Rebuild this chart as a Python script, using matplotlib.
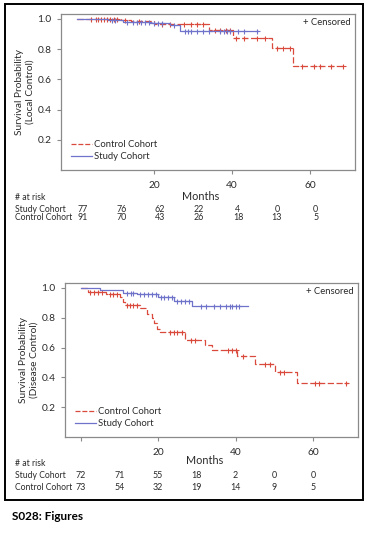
import numpy as np
import matplotlib
matplotlib.use("Agg")
import matplotlib.pyplot as plt
from matplotlib.patches import Rectangle
from matplotlib.lines import Line2D
import matplotlib.transforms as mtransforms

plt.rcParams["font.family"] = ["Lato", "DejaVu Sans"]

RED = "#d94a3c"
BLUE = "#6f73c9"
GRAY = "#8a8a8a"
TXT = "#2a2a2a"

# ---- Local control (top panel) ----
lc_ctrl_t = [0, 11.5, 14, 20, 34, 40.3, 50.2, 55.7, 69]
lc_ctrl_s = [1.0, 0.99, 0.985, 0.965, 0.927, 0.872, 0.805, 0.689, 0.689]
lc_ctrl_cens = [3.6, 4.9, 5.6, 6.3, 7.0, 7.8, 8.5, 9.5, 10.5, 12.5, 16, 22, 24,
                27.5, 29.5, 31, 32.6, 35.5, 37, 38.5, 39.5, 41, 43, 46.4, 48.5,
                51.5, 53, 54.8, 58, 61, 62.5, 65.5, 68.5]
lc_study_t = [0, 8, 12, 19, 24, 26.7, 46.7]
lc_study_s = [1.0, 0.99, 0.98, 0.975, 0.958, 0.922, 0.922]
lc_study_cens = [9, 10, 13, 14.5, 15.5, 16.5, 17.5, 18.5, 20, 21, 22, 25, 28,
                 28.7, 29.5, 31, 32.5, 34, 37, 38, 38.8, 39.5, 41.5, 43, 46.5]
lc_risk_study = [77, 76, 62, 22, 4, 0, 0]
lc_risk_ctrl = [91, 70, 43, 26, 18, 13, 5]

# ---- Disease control (bottom panel) ----
dc_ctrl_t = [0, 2.0, 6.6, 10.2, 11.0, 11.5, 15.4, 17.1, 18.4, 19.0, 19.7, 20.5,
             27, 32.2, 33.9, 40.4, 45.1, 50.3, 55.9, 69.1]
dc_ctrl_s = [1.0, 0.975, 0.956, 0.94, 0.907, 0.885, 0.868, 0.823, 0.797, 0.764,
             0.726, 0.706, 0.653, 0.62, 0.585, 0.541, 0.492, 0.439, 0.362, 0.362]
dc_ctrl_cens = [2.5, 3.5, 4.5, 5.5, 7.5, 8.5, 9.3, 12, 12.8, 13.5, 14.5, 23, 24,
                25, 26.3, 28.5, 29.5, 38, 39, 40, 42, 47.5, 49, 51.5, 52.5,
                60.5, 61.5, 68.5]
dc_study_t = [0, 5, 11, 14.6, 20.1, 24.2, 28.7, 43.1]
dc_study_s = [1.0, 0.985, 0.969, 0.956, 0.94, 0.912, 0.876, 0.876]
dc_study_cens = [12, 13, 13.6, 15.4, 16.5, 17.5, 18.5, 19.5, 20.8, 21.5, 22.5,
                 23.5, 25, 26, 27, 28, 31, 32.5, 34.5, 36, 37.5, 38.5, 39, 40, 41]
dc_risk_study = [72, 71, 55, 18, 2, 0, 0]
dc_risk_ctrl = [73, 54, 32, 19, 14, 9, 5]

risk_times = [0, 10, 20, 30, 40, 50, 60]

W, H = 369, 534
fig = plt.figure(figsize=(W / 100, H / 100), dpi=100)


def px(x, y):
    # figure pixel (from top-left) -> figure fraction
    return x / W, 1 - y / H


def step_value(t, s, x):
    i = np.searchsorted(t, x, side="right") - 1
    return s[max(i, 0)]


def km_panel(rect, ylabel, ctrl, study, xticks, risk, ypix, risk_dx):
    l, t, r, b = rect
    ax = fig.add_axes([l / W, 1 - b / H, (r - l) / W, (b - t) / H])
    for (tt, ss, cc), col, ls in [(ctrl, RED, (0, (5, 2))), (study, BLUE, "-")]:
        ax.step(tt, ss, where="post", color=col, lw=0.9, ls=ls)
        cy = [step_value(tt, ss, c) for c in cc]
        ax.plot(cc, cy, ls="none", marker="+", ms=3.6, mew=0.8, color=col)
    ax.set_xlim(-4, 71.6)
    ax.set_ylim(0, 1.033)
    ax.set_yticks([0.2, 0.4, 0.6, 0.8, 1.0])
    ax.set_yticklabels(["0.2", "0.4", "0.6", "0.8", "1.0"])
    ax.set_xticks(xticks)
    ax.set_xticklabels([str(x) if x else "" for x in xticks])
    for sp in ax.spines.values():
        sp.set_color(GRAY)
        sp.set_linewidth(0.9)
    ax.tick_params(axis="both", length=3, width=0.8, color=GRAY, labelsize=7.3,
                   labelcolor=TXT)
    ax.tick_params(axis="x", pad=5)
    ax.tick_params(axis="y", pad=4)
    ax.set_ylabel(ylabel, fontsize=7.3, color=TXT, linespacing=1.15, labelpad=2)
    ax.text(0.985, 0.945, "+ Censored", transform=ax.transAxes, ha="right",
            va="center", fontsize=6.8, color=TXT)
    handles = [Line2D([], [], color=RED, lw=0.9, ls=(0, (4, 1.5))),
               Line2D([], [], color=BLUE, lw=0.9)]
    ax.legend(handles, ["Control Cohort", "Study Cohort"], loc="lower left",
              bbox_to_anchor=(0.015, 0.02), frameon=False, fontsize=6.8,
              handlelength=2.2, handletextpad=0.2, labelspacing=0.3,
              borderaxespad=0.2, labelcolor=TXT)

    # number at risk table
    trans = mtransforms.blended_transform_factory(ax.transData, fig.transFigure)
    y_months, y_hdr, y_study, y_ctrl = ypix
    fig.text(32, 1 - y_months / H, "Months", transform=trans, ha="center",
             va="center", fontsize=7.8, color=TXT)
    fig.text(15 / W, 1 - y_hdr / H, "# at risk", ha="left", va="center",
             fontsize=6.2, color=TXT)
    for yy, name, vals in [(y_study, "Study Cohort", risk[0]),
                           (y_ctrl, "Control Cohort", risk[1])]:
        fig.text(15 / W, 1 - yy / H, name, ha="left", va="center",
                 fontsize=6.2, color=TXT)
        for tm, v in zip(risk_times, vals):
            fig.text(tm + risk_dx, 1 - yy / H, str(v), transform=trans,
                     ha="center", va="center", fontsize=6.4, color=TXT)
    return ax


km_panel((61, 14, 355, 170), "Survival Probability\n(Local Control)",
         (lc_ctrl_t, lc_ctrl_s, lc_ctrl_cens),
         (lc_study_t, lc_study_s, lc_study_cens),
         [20, 40, 60], (lc_risk_study, lc_risk_ctrl),
         (197, 197, 209, 218), 1.5)

km_panel((65, 283, 358, 437), "Survival Probability\n(Disease Control)",
         (dc_ctrl_t, dc_ctrl_s, dc_ctrl_cens),
         (dc_study_t, dc_study_s, dc_study_cens),
         [0, 20, 40, 60], (dc_risk_study, dc_risk_ctrl),
         (460, 463, 476, 487), 0.0)

# outer frame
fig.patches.append(Rectangle(px(5, 500), 358 / W, 496 / H, fill=False,
                             edgecolor="black", lw=1.4,
                             transform=fig.transFigure, figure=fig))

fig.text(12 / W, 1 - 517 / H, "S028: Figures", ha="left", va="center",
         fontsize=8.5, fontweight="bold", color="black")

fig.savefig("out.png", dpi=100)
